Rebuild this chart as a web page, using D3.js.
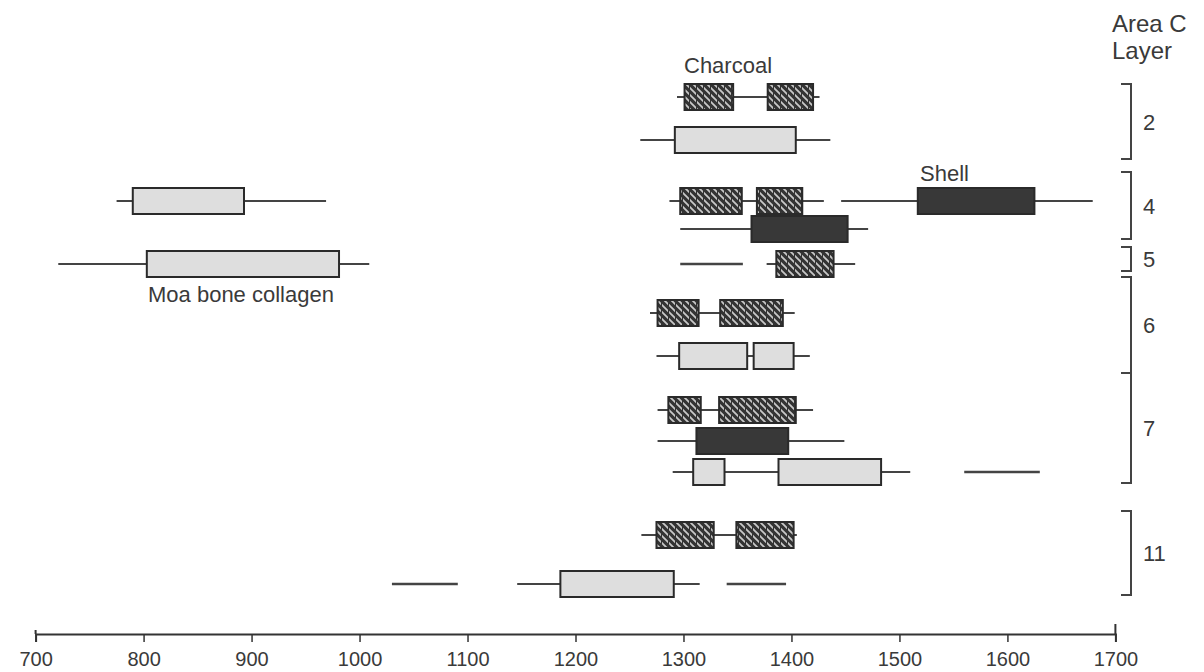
<!DOCTYPE html>
<html>
<head>
<meta charset="utf-8">
<script src="https://cdn.jsdelivr.net/npm/d3@7/dist/d3.min.js"></script>
<style>
  html, body { margin: 0; padding: 0; background: #fff; }
  svg { display: block; }
  text { font-family: "Liberation Sans", Arial, Helvetica, sans-serif; fill: #3a3a3a; }
</style>
</head>
<body>
<svg id="chart" width="1204" height="672"></svg>
<script>
// ---------------- DATA ----------------
const tickValues = [700, 800, 900, 1000, 1100, 1200, 1300, 1400, 1500, 1600, 1700];
const rowIds = ["2a", "2b", "4a", "4b", "5a", "6a", "6b", "7a", "7b", "7c", "11a", "11b"];
const layerNames = ["2", "4", "5", "6", "7", "11"];

// whisker ranges: [row, from, to]
const whiskers = [
  ["2a", 1294, 1426], ["2b", 1260, 1436],
  ["4a", 775, 969], ["4a", 1287, 1430], ["4a", 1446, 1679],
  ["4b", 1297, 1471],
  ["5a", 721, 1009], ["5a", 1377, 1459],
  ["6a", 1269, 1403], ["6b", 1275, 1417],
  ["7a", 1276, 1420], ["7b", 1276, 1449], ["7c", 1290, 1510],
  ["11a", 1261, 1405], ["11b", 1146, 1315]
];
// bare ranges drawn as a line only: [row, from, to]
const bareRanges = [
  ["5a", 1297, 1355], ["7c", 1560, 1630], ["11b", 1030, 1091], ["11b", 1340, 1395]
];
// charcoal (hatched) boxes
const charcoalBoxes = [
  ["2a", 1301, 1346], ["2a", 1378, 1420],
  ["4a", 1297, 1354], ["4a", 1368, 1410],
  ["5a", 1386, 1439],
  ["6a", 1276, 1314], ["6a", 1334, 1392],
  ["7a", 1286, 1316], ["7a", 1333, 1404],
  ["11a", 1275, 1328], ["11a", 1349, 1402]
];
// light boxes (moa bone collagen and others)
const lightBoxes = [
  ["2b", 1292, 1404],
  ["4a", 790, 893], ["5a", 803, 981],
  ["6b", 1296, 1359], ["6b", 1365, 1402],
  ["7c", 1309, 1338], ["7c", 1388, 1483],
  ["11b", 1186, 1291]
];
// dark boxes (shell and others)
const darkBoxes = [
  ["4a", 1517, 1625], ["4b", 1363, 1452], ["7b", 1312, 1397]
];
// layer brackets: [layer, firstRow, lastRow]
const layerSpans = [
  ["2", "2a", "2b"], ["4", "4a", "4b"], ["5", "5a", "5a"],
  ["6", "6a", "6b"], ["7", "7a", "7c"], ["11", "11a", "11b"]
];

// ---------------- LAYOUT ----------------
const svg = d3.select("#chart");
const x = d3.scaleLinear().domain([700, 1700]).range([35.6, 1115.4]);
const y = d3.scaleOrdinal().domain(rowIds)
  .range([97, 140, 201, 229, 264, 313, 356, 410, 441, 472, 535, 584]);
const boxH = 26;

// bracket extents (pixel layout)
const bracketTop = {"2": 84, "4": 172, "5": 247, "6": 277, "7": 373, "11": 511};
const bracketBot = {"2": 159, "4": 239, "5": 271, "6": 373, "7": 483, "11": 595};

// hatch pattern
const defs = svg.append("defs");
const pat = defs.append("pattern").attr("id", "hatch")
  .attr("patternUnits", "userSpaceOnUse").attr("width", 7).attr("height", 7);
pat.append("rect").attr("width", 7).attr("height", 7).attr("fill", "#333");
pat.append("path").attr("d", "M-1,-1 L8,8 M-1,6 L1,8 M6,-1 L8,1")
  .attr("stroke", "#c8c8c8").attr("stroke-width", 1.8);
pat.append("path").attr("d", "M3.5,0 L3.5,7").attr("stroke", "#333").attr("stroke-width", 1);

const g = svg.append("g");

// whiskers
g.selectAll("line.wh").data(whiskers).join("line").attr("class", "wh")
  .attr("x1", d => x(d[1])).attr("x2", d => x(d[2]))
  .attr("y1", d => y(d[0])).attr("y2", d => y(d[0]))
  .attr("stroke", "#444").attr("stroke-width", 2);

g.selectAll("line.bare").data(bareRanges).join("line").attr("class", "bare")
  .attr("x1", d => x(d[1])).attr("x2", d => x(d[2]))
  .attr("y1", d => y(d[0])).attr("y2", d => y(d[0]))
  .attr("stroke", "#444").attr("stroke-width", 2.5);

function boxes(data, cls, fill) {
  g.selectAll("rect." + cls).data(data).join("rect").attr("class", cls)
    .attr("x", d => x(d[1])).attr("width", d => x(d[2]) - x(d[1]))
    .attr("y", d => y(d[0]) - boxH / 2).attr("height", boxH)
    .attr("fill", fill).attr("stroke", "#2a2a2a").attr("stroke-width", 2);
}
boxes(lightBoxes, "light", "#dedede");
boxes(charcoalBoxes, "char", "url(#hatch)");
boxes(darkBoxes, "dark", "#383838");

// annotations
g.append("text").attr("x", 684).attr("y", 73).attr("font-size", 22).text("Charcoal");
g.append("text").attr("x", 920).attr("y", 181).attr("font-size", 22).text("Shell");
g.append("text").attr("x", 148).attr("y", 302).attr("font-size", 22).text("Moa bone collagen");

// header
g.append("text").attr("x", 1112).attr("y", 32).attr("font-size", 24).text("Area C");
g.append("text").attr("x", 1112).attr("y", 59).attr("font-size", 24).text("Layer");

// brackets
const br = g.selectAll("g.br").data(layerSpans).join("g").attr("class", "br");
br.append("path")
  .attr("d", d => `M1121,${bracketTop[d[0]]} H1131 V${bracketBot[d[0]]} H1121`)
  .attr("fill", "none").attr("stroke", "#444").attr("stroke-width", 2);
br.append("text")
  .attr("x", 1143)
  .attr("y", d => (bracketTop[d[0]] + bracketBot[d[0]]) / 2 + 8)
  .attr("font-size", 22).text(d => d[0]);

// axis
const axisY = 634;
const axis = d3.axisBottom(x).tickValues(tickValues).tickSize(8).tickPadding(10)
  .tickFormat(d3.format("d"));
const ag = svg.append("g").attr("transform", `translate(0,${axisY})`).call(axis);
ag.select(".domain").attr("stroke", "#333").attr("stroke-width", 2);
ag.selectAll(".tick line").attr("stroke", "#333").attr("stroke-width", 1.5);
ag.selectAll(".tick text").attr("font-size", 20).attr("fill", "#3a3a3a")
  .attr("font-family", "Liberation Sans, Arial, sans-serif");
// end caps
ag.append("line").attr("x1", x(1700)).attr("x2", x(1700)).attr("y1", -10).attr("y2", 0)
  .attr("stroke", "#333").attr("stroke-width", 2);
ag.append("line").attr("x1", x(700)).attr("x2", x(700)).attr("y1", -4).attr("y2", 0)
  .attr("stroke", "#333").attr("stroke-width", 2);
</script>
</body>
</html>
